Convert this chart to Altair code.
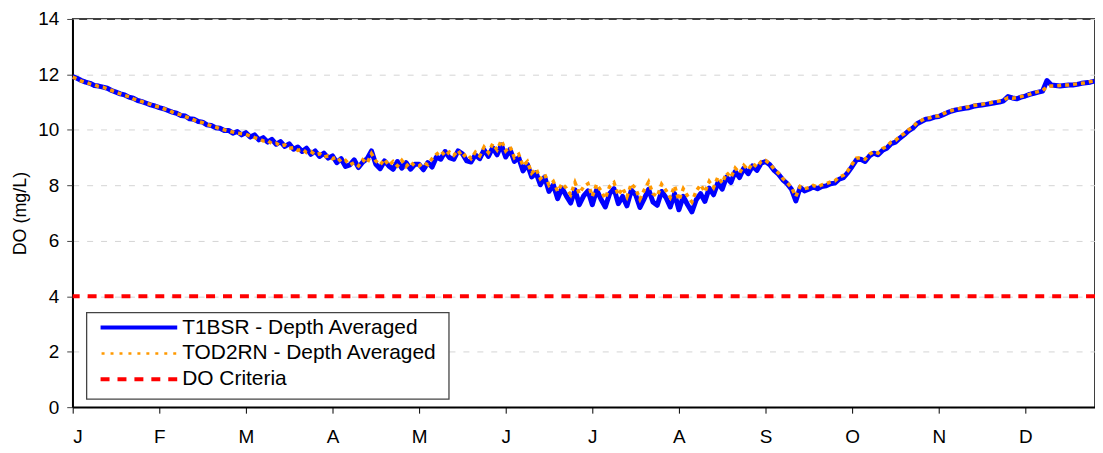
import altair as alt
import pandas as pd

MONTH_LABELS = ["J", "F", "M", "A", "M", "J", "J", "A", "S", "O", "N", "D"]
X_MAX = 1027 / 87  # axis end, in months

SERIES = ["T1BSR - Depth Averaged", "TOD2RN - Depth Averaged", "DO Criteria"]

BLUE_STEP = 0.05
BLUE = [
    11.92, 11.86, 11.78, 11.72, 11.68, 11.60, 11.58, 11.54, 11.50, 11.42, 11.36, 11.30, 11.26, 11.18, 11.14, 11.06, 11.02, 10.96, 10.90, 10.86,
    10.80, 10.76, 10.70, 10.64, 10.60, 10.52, 10.50, 10.40, 10.38, 10.30, 10.28, 10.18, 10.16, 10.08, 10.06, 9.98, 9.98, 9.88, 9.94, 9.82,
    9.90, 9.74, 9.82, 9.64, 9.72, 9.56, 9.66, 9.48, 9.58, 9.40, 9.50, 9.30, 9.38, 9.22, 9.34, 9.12, 9.24, 9.04, 9.16, 8.98,
    9.06, 8.82, 8.96, 8.68, 8.74, 8.92, 8.64, 8.84, 8.96, 9.24, 8.76, 8.60, 8.88, 8.70, 8.58, 8.86, 8.62, 8.82, 8.58, 8.76,
    8.76, 8.56, 8.82, 8.66, 9.02, 8.94, 9.22, 9.00, 8.94, 9.24, 9.14, 8.88, 8.84, 9.10, 8.96, 9.28, 9.04, 9.36, 9.10, 9.46,
    9.02, 9.30, 8.86, 9.00, 8.52, 8.76, 8.30, 8.46, 8.02, 8.30, 7.78, 8.02, 7.52, 7.90, 7.62, 7.36, 7.84, 7.30, 7.62, 7.80,
    7.30, 7.84, 7.50, 7.22, 7.70, 7.88, 7.34, 7.60, 7.26, 7.82, 7.66, 7.20, 7.52, 7.86, 7.40, 7.28, 7.78, 7.56, 7.22, 7.70,
    7.12, 7.60, 7.30, 7.04, 7.48, 7.70, 7.42, 7.90, 7.66, 8.10, 7.86, 8.30, 8.10, 8.50, 8.28, 8.62, 8.42, 8.70, 8.54, 8.80,
    8.86, 8.74, 8.54, 8.40, 8.20, 8.06, 7.86, 7.44, 7.92, 7.80, 7.86, 7.94, 7.88, 7.96, 7.98, 8.06, 8.08, 8.22, 8.28, 8.46,
    8.68, 8.92, 8.94, 8.86, 9.06, 9.16, 9.10, 9.26, 9.34, 9.50, 9.56, 9.70, 9.82, 9.96, 10.06, 10.22, 10.30, 10.38, 10.40, 10.46,
    10.48, 10.55, 10.62, 10.68, 10.72, 10.75, 10.78, 10.80, 10.85, 10.88, 10.90, 10.92, 10.95, 10.98, 11.00, 11.05, 11.20, 11.15, 11.12, 11.18,
    11.22, 11.28, 11.32, 11.36, 11.40, 11.78, 11.62, 11.60, 11.58, 11.60, 11.62, 11.62, 11.64, 11.68, 11.70, 11.72, 11.76,
]

ORANGE_STEP = 0.05
ORANGE = [
    11.90, 11.84, 11.76, 11.72, 11.66, 11.62, 11.56, 11.54, 11.48, 11.42, 11.36, 11.30, 11.24, 11.20, 11.12, 11.08, 11.02, 10.96, 10.92, 10.86,
    10.82, 10.76, 10.72, 10.64, 10.58, 10.54, 10.48, 10.42, 10.36, 10.30, 10.26, 10.20, 10.14, 10.10, 10.04, 10.00, 9.96, 9.92, 9.88, 9.86,
    9.84, 9.78, 9.72, 9.68, 9.60, 9.62, 9.50, 9.52, 9.42, 9.46, 9.34, 9.36, 9.26, 9.30, 9.18, 9.22, 9.10, 9.14, 9.02, 9.06,
    8.96, 9.02, 8.84, 8.90, 8.74, 8.82, 8.70, 8.92, 8.80, 9.14, 8.88, 8.74, 8.94, 8.72, 8.86, 8.70, 8.90, 8.68, 8.84, 8.70,
    8.70, 8.82, 8.74, 8.96, 9.12, 9.24, 9.06, 9.20, 9.08, 9.26, 9.02, 9.14, 8.96, 9.20, 9.06, 9.38, 9.18, 9.50, 9.28, 9.62,
    9.24, 9.40, 9.00, 9.12, 8.70, 8.86, 8.44, 8.60, 8.24, 8.40, 8.00, 8.14, 7.78, 8.06, 7.90, 7.66, 8.10, 7.70, 7.96, 8.06,
    7.60, 8.04, 7.80, 7.52, 7.96, 8.10, 7.64, 7.90, 7.58, 8.06, 7.88, 7.50, 7.84, 8.12, 7.70, 7.60, 8.04, 7.82, 7.56, 7.98,
    7.46, 7.88, 7.62, 7.40, 7.80, 8.02, 7.76, 8.14, 7.92, 8.30, 8.08, 8.46, 8.28, 8.62, 8.44, 8.72, 8.56, 8.80, 8.66, 8.86,
    8.90, 8.78, 8.58, 8.44, 8.24, 8.10, 7.92, 7.60, 7.96, 7.88, 7.92, 8.00, 7.94, 8.02, 8.06, 8.12, 8.16, 8.30, 8.36, 8.52,
    8.76, 8.98, 9.00, 8.94, 9.12, 9.22, 9.16, 9.32, 9.40, 9.56, 9.62, 9.76, 9.86, 10.00, 10.10, 10.26, 10.34, 10.42, 10.44, 10.50,
    10.50, 10.58, 10.64, 10.70, 10.74, 10.78, 10.80, 10.84, 10.88, 10.90, 10.92, 10.96, 10.98, 11.02, 11.04, 11.08, 11.16, 11.14, 11.16, 11.20,
    11.24, 11.28, 11.34, 11.38, 11.42, 11.56, 11.58, 11.58, 11.60, 11.62, 11.62, 11.64, 11.66, 11.68, 11.70, 11.74, 11.76,
]

CRITERIA = [4.0]

Y_TICKS = [0, 2, 4, 6, 8, 10, 12, 14]

FONT = "Liberation Sans"
BLUE_C = "#0000FF"
ORANGE_C = "#FF9900"
RED_C = "#FF0000"

blue_df = pd.DataFrame({"m": [round(i * BLUE_STEP, 4) for i in range(len(BLUE))], "DO": BLUE})
orange_df = pd.DataFrame({"m": [round(i * ORANGE_STEP, 4) for i in range(len(ORANGE))], "DO": ORANGE})
crit_df = pd.DataFrame({"DO": CRITERIA})

x_scale = alt.Scale(domain=[0, X_MAX], nice=False, zero=False)
y_scale = alt.Scale(domain=[0, 14], nice=False)

label_expr = "[" + ",".join("'%s'" % s for s in MONTH_LABELS) + "][datum.value]"

x_axis = alt.Axis(
    values=list(range(len(MONTH_LABELS))), labelExpr=label_expr, title=None, grid=False,
    domainColor="black", domainWidth=1.5, tickColor="black", tickSize=6,
    labelFont=FONT, labelFontSize=19, labelColor="black", labelPadding=14,
)
y_axis = alt.Axis(
    values=Y_TICKS, title="DO (mg/L)", grid=True, gridColor="#d4d4d4", gridDash=[6, 8], gridWidth=1,
    domainColor="black", domainWidth=1.5, tickColor="#444", tickSize=6,
    labelFont=FONT, labelFontSize=19, labelColor="black", labelPadding=8,
    titleFont=FONT, titleFontSize=18, titleFontWeight="normal", titleColor="black", titlePadding=8,
)

X = alt.X("m:Q", scale=x_scale, axis=x_axis)
Y = alt.Y("DO:Q", scale=y_scale, axis=y_axis)

blue = alt.Chart(blue_df).mark_line(color=BLUE_C, strokeWidth=5, strokeJoin="round").encode(x=X, y=Y)
orange = alt.Chart(orange_df).mark_line(
    color=ORANGE_C, strokeWidth=3.5, strokeDash=[4, 4], strokeCap="butt"
).encode(x=X, y=Y)
crit = alt.Chart(crit_df).mark_rule(color=RED_C, strokeWidth=4, strokeDash=[9, 8]).encode(y=Y)

one = alt.Data(values=[{"k": 1}])
leg_box = alt.Chart(one).mark_rect(fill="white", stroke="#444", strokeWidth=1.3).encode(
    x=alt.value(14), x2=alt.value(378), y=alt.value(295), y2=alt.value(382)
)
leg_rows = [310, 336, 362]
leg_b = alt.Chart(one).mark_rule(color=BLUE_C, strokeWidth=4).encode(
    x=alt.value(28), x2=alt.value(105), y=alt.value(leg_rows[0]))
leg_o = alt.Chart(one).mark_rule(color=ORANGE_C, strokeWidth=2.5, strokeDash=[3, 6]).encode(
    x=alt.value(29), x2=alt.value(105), y=alt.value(leg_rows[1]))
leg_r = alt.Chart(one).mark_rule(color=RED_C, strokeWidth=4, strokeDash=[9, 8]).encode(
    x=alt.value(28), x2=alt.value(105), y=alt.value(leg_rows[2]))
leg_texts = [
    alt.Chart(one).mark_text(text=SERIES[i], font=FONT, fontSize=21, align="left", baseline="middle",
                             color="black").encode(x=alt.value(110), y=alt.value(leg_rows[i]))
    for i in range(3)
]

chart = alt.layer(blue, orange, crit, leg_box, leg_b, leg_o, leg_r, *leg_texts).properties(
    width=1027, height=390,
    autosize=alt.AutoSizeParams(type="none"),
    padding={"left": 65, "top": 10, "right": 0, "bottom": 38},
    background="white",
).configure_view(stroke="black", strokeWidth=1.5)

chart.save("out.html", embed_options={"renderer": "svg", "actions": False})
